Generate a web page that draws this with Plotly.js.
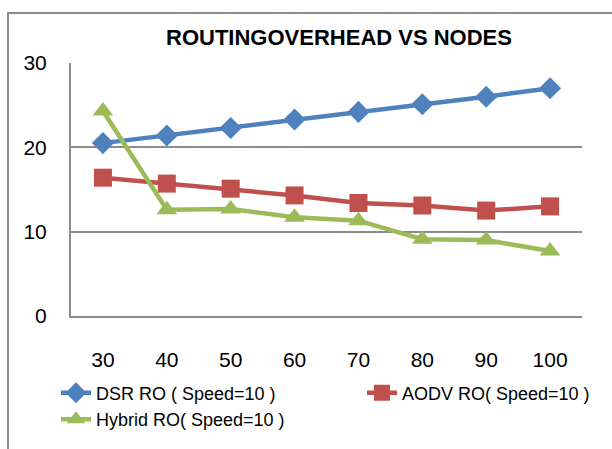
<!DOCTYPE html>
<html>
<head>
<meta charset="utf-8">
<script src="https://cdn.plot.ly/plotly-3.0.1.min.js"></script>
<style>
  html, body { margin: 0; padding: 0; background: #fff; overflow: hidden; }
  #wrap { position: relative; width: 612px; height: 449px; }
  #chart { position: absolute; left: 0; top: 0; width: 612px; height: 449px; }
  #frame { position: absolute; left: 7px; top: 12px; width: 700px; height: 600px;
           border-left: 2px solid #8c8c8c; border-top: 2px solid #8c8c8c; pointer-events: none; }
</style>
</head>
<body>
<div id="wrap">
  <div id="chart"></div>
  <div id="frame"></div>
</div>
<script>
const nodes = ['30', '40', '50', '60', '70', '80', '90', '100'];
const dsrRO = [20.5, 21.4, 22.3, 23.3, 24.2, 25.1, 26.0, 27.0];
const aodvRO = [16.4, 15.7, 15.1, 14.3, 13.4, 13.1, 12.5, 13.0];
const hybridRO = [24.3, 12.6, 12.7, 11.7, 11.3, 9.1, 9.0, 7.7];
const seriesNames = ['DSR RO ( Speed=10 )', 'AODV RO( Speed=10 )', 'Hybrid RO( Speed=10 )'];
const yTicks = [0, 10, 20, 30];
const titleText = 'ROUTINGOVERHEAD VS NODES';

const FONT = 'Liberation Sans, Arial, sans-serif';
const PL = 71, PW = 511, PT = 63, PH = 255;

const traces = [
  { x: nodes, y: dsrRO, name: seriesNames[0], type: 'scatter', mode: 'lines+markers',
    legend: 'legend',
    line: { color: '#4F81BD', width: 4.5 },
    marker: { symbol: 'diamond', size: 17, color: '#4F81BD' } },
  { x: nodes, y: aodvRO, name: seriesNames[1], type: 'scatter', mode: 'lines+markers',
    legend: 'legend2',
    line: { color: '#C0504D', width: 4.5 },
    marker: { symbol: 'square', size: 18, color: '#C0504D' } },
  { x: nodes, y: hybridRO, name: seriesNames[2], type: 'scatter', mode: 'lines+markers',
    legend: 'legend',
    line: { color: '#9BBB59', width: 4.5 },
    marker: { symbol: 'triangle-up', size: 18, color: '#9BBB59' } }
];

const legendCommon = {
  orientation: 'v', xanchor: 'left', yanchor: 'top',
  xref: 'paper', yref: 'paper',
  font: { family: FONT, size: 18, color: '#000000' },
  bgcolor: 'rgba(0,0,0,0)', borderwidth: 0, itemwidth: 30, tracegroupgap: 0,
  traceorder: 'normal'
};

const layout = {
  width: 612, height: 449,
  margin: { l: PL, r: 612 - PL - PW, t: PT, b: 449 - PT - PH, pad: 0 },
  paper_bgcolor: '#ffffff', plot_bgcolor: '#ffffff',
  showlegend: true,
  title: { text: titleText, x: 339 / 612, xanchor: 'center', y: 1 - 37 / 449, yanchor: 'middle',
           font: { family: FONT, size: 22, color: '#000000', weight: 'bold' } },
  xaxis: {
    type: 'category', categoryorder: 'array', categoryarray: nodes,
    range: [-0.5, 7.5], showgrid: false, zeroline: false,
    showline: true, linecolor: '#8c8c8c', linewidth: 2,
    ticks: '', ticklabelstandoff: 24,
    tickfont: { family: FONT, size: 21, color: '#000000' }
  },
  yaxis: {
    range: [0, 30], tickvals: yTicks, ticktext: yTicks.map(String),
    showgrid: true, gridcolor: '#8c8c8c', gridwidth: 2, zeroline: false,
    showline: true, linecolor: '#8c8c8c', linewidth: 2,
    ticks: '', ticklabelstandoff: 18,
    tickfont: { family: FONT, size: 21, color: '#000000' }
  },
  legend: Object.assign({}, legendCommon, { x: (56 - PL) / PW, y: 1 - (377 - PT) / PH }),
  legend2: Object.assign({}, legendCommon, { x: (362 - PL) / PW, y: 1 - (377 - PT) / PH })
};

Plotly.newPlot('chart', traces, layout, { staticPlot: true, displayModeBar: false });
</script>
</body>
</html>
